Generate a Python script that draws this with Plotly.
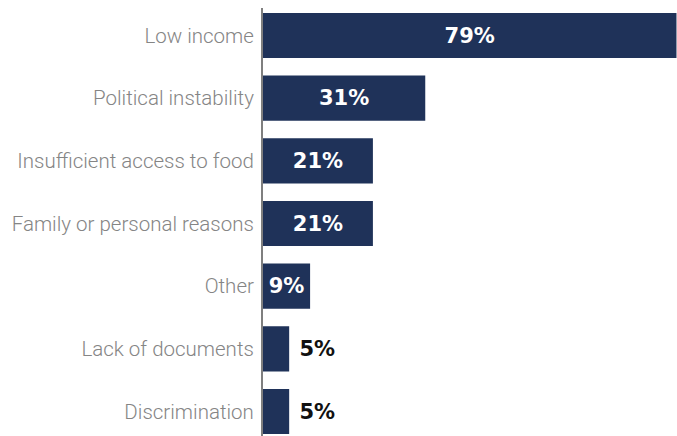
import plotly.graph_objects as go

categories = ["Low income", "Political instability", "Insufficient access to food",
              "Family or personal reasons", "Other", "Lack of documents", "Discrimination"]
values = [79, 31, 21, 21, 9, 5, 5]

inside = [v >= 9 for v in values]
texts = [f"{v}%" if ins else f" {v}%" for v, ins in zip(values, inside)]
positions = ["inside" if ins else "outside" for ins in inside]
colors = ["white" if ins else "#111111" for ins in inside]

fig = go.Figure(go.Bar(
    x=values, y=categories, orientation="h",
    marker=dict(color="#1f3259", line=dict(width=0)),
    text=texts, textposition=positions, insidetextanchor="middle",
    constraintext="none", cliponaxis=False, hoverinfo="skip",
    textfont=dict(family="DejaVu Sans", size=21, color=colors, weight="bold"),
))

fig.update_layout(
    width=677, height=436,
    margin=dict(l=263, r=0, t=8, b=0),
    paper_bgcolor="white", plot_bgcolor="white",
    bargap=0.28, showlegend=False,
    xaxis=dict(range=[0, 79.1], visible=False, fixedrange=True),
    yaxis=dict(type="category", range=[6.391, -0.439], showline=True, linecolor="#7f7f7f",
               linewidth=2, ticks="", showgrid=False, ticklabelstandoff=3, fixedrange=True,
               tickfont=dict(family="Roboto Light, Roboto", size=20.5, color="#858585", weight=300)),
)

fig.write_html("out.html", config={"displayModeBar": False},
               post_script="document.body.style.margin='0';")
